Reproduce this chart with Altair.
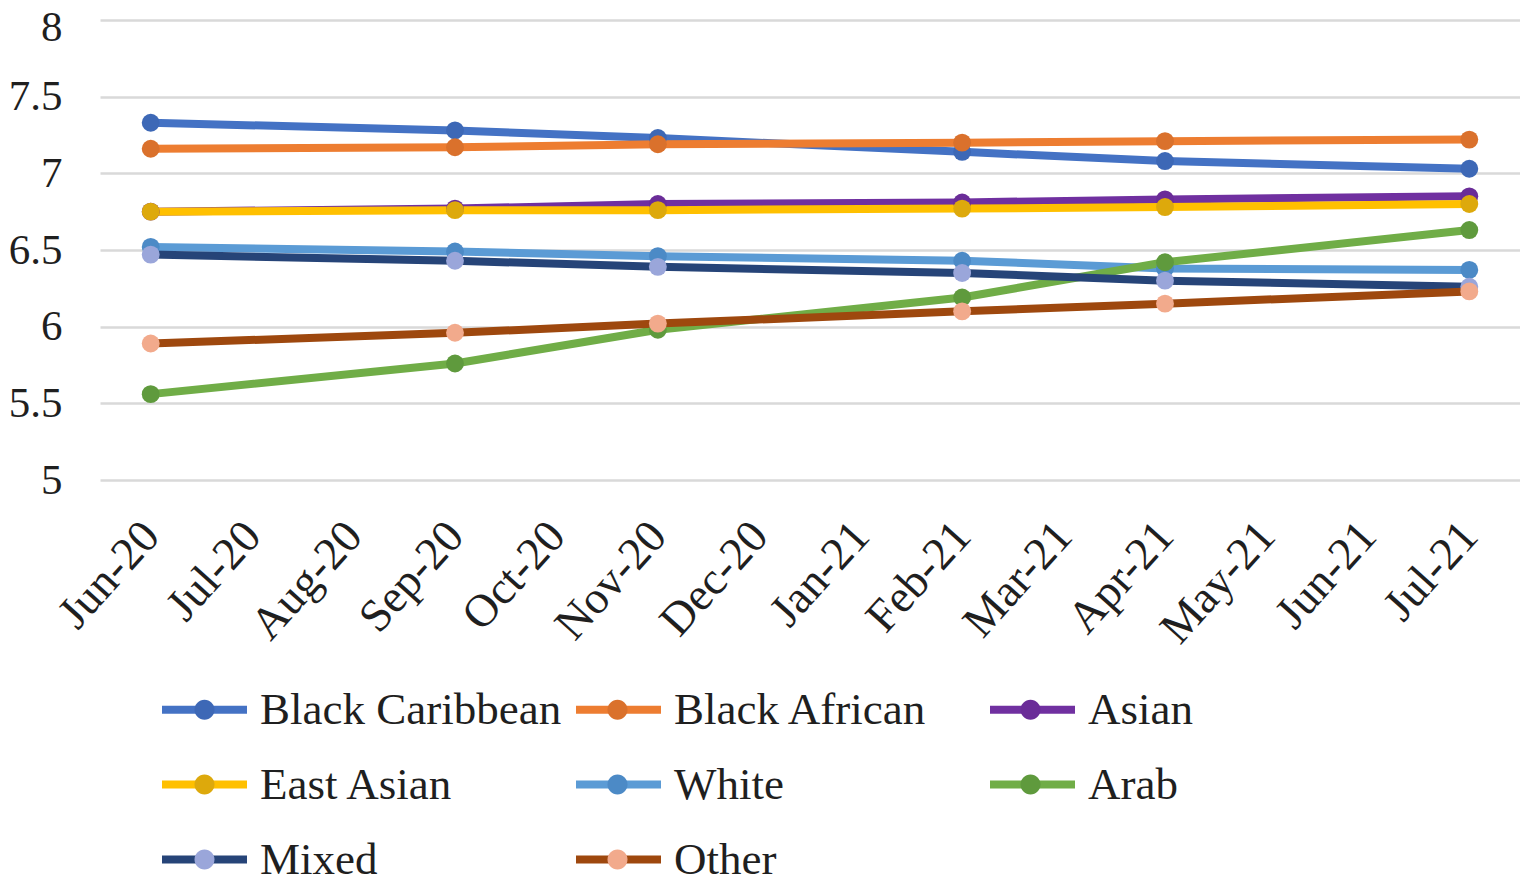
import altair as alt
import pandas as pd

months = ["Jun-20", "Jul-20", "Aug-20", "Sep-20", "Oct-20", "Nov-20", "Dec-20",
          "Jan-21", "Feb-21", "Mar-21", "Apr-21", "May-21", "Jun-21", "Jul-21"]
survey_months = ["Jun-20", "Sep-20", "Nov-20", "Feb-21", "Apr-21", "Jul-21"]

groups = ["Black Caribbean", "Black African", "Asian", "East Asian",
          "White", "Arab", "Mixed", "Other"]

black_caribbean = [7.33, 7.28, 7.23, 7.14, 7.08, 7.03]
black_african = [7.16, 7.17, 7.19, 7.20, 7.21, 7.22]
asian = [6.75, 6.77, 6.80, 6.81, 6.83, 6.85]
east_asian = [6.75, 6.76, 6.76, 6.77, 6.78, 6.80]
white = [6.52, 6.49, 6.46, 6.43, 6.38, 6.37]
arab = [5.56, 5.76, 5.98, 6.19, 6.42, 6.63]
mixed = [6.47, 6.43, 6.39, 6.35, 6.30, 6.26]
other = [5.89, 5.96, 6.02, 6.10, 6.15, 6.23]

series = [black_caribbean, black_african, asian, east_asian, white, arab, mixed, other]

line_colors = ["#4472C4", "#ED7D31", "#7030A0", "#FFC000",
               "#5B9BD5", "#70AD47", "#264478", "#9E480E"]
marker_colors = ["#3D68B6", "#DA712C", "#6A2C98", "#DDA90C",
                 "#4C8AC6", "#5F9A3D", "#9AA6DA", "#F2AA8C"]

y_ticks = [5, 5.5, 6, 6.5, 7, 7.5, 8]

rows = []
for g, vals in zip(groups, series):
    for i, (m, v) in enumerate(zip(survey_months, vals)):
        rows.append({"Month": m, "idx": i, "Score": v, "Group": g, "G2": g + "_"})
df = pd.DataFrame(rows)

FONT = "Liberation Serif"
TEXT = "#1f1f1f"

line_path = "M-2.25,0L6.25,0"
circle_path = "M3,0A1,1,0,1,1,1,0A1,1,0,1,1,3,0Z"

legend_common = dict(
    orient="none", legendX=62, legendY=667, direction="horizontal", columns=3,
    gridAlign="all", title=None, labelFont=FONT, labelFontSize=45,
    labelColor=TEXT, labelOffset=53, labelLimit=600, symbolSize=400,
    rowPadding=29, labelBaseline="middle",
)

x_enc = alt.X(
    "Month:O",
    scale=alt.Scale(domain=months),
    axis=alt.Axis(
        title=None, labelAngle=-48, labelAlign="right", labelBaseline="middle",
        labelFont=FONT, labelFontSize=46, labelColor=TEXT, labelPadding=48,
        labelOffset=0, ticks=False, domain=False, grid=False, labelOverlap=False,
    ),
)
y_enc = alt.Y(
    "Score:Q",
    scale=alt.Scale(domain=[5, 8], nice=False, zero=False),
    axis=alt.Axis(
        title=None, values=y_ticks, format=".1~f", labelFont=FONT,
        labelFontSize=43, labelColor=TEXT, labelPadding=38, ticks=False,
        labelOffset={"condition": {"test": "datum.value === 8", "value": 7}, "value": 0},
        domain=False, grid=True, gridColor="#D9D9D9", gridWidth=2.5,
    ),
)

lines = alt.Chart(df).mark_line(strokeWidth=8, strokeJoin="round", strokeCap="round").encode(
    x=x_enc,
    y=y_enc,
    color=alt.Color(
        "Group:N",
        scale=alt.Scale(domain=groups, range=line_colors),
        legend=alt.Legend(symbolType=line_path, symbolStrokeWidth=8,
                          columnPadding=-2, **legend_common),
    ),
    order=alt.Order("idx:Q"),
)

points = alt.Chart(df).mark_point(filled=True, shape="circle", size=320, opacity=1, strokeWidth=0).encode(
    x=x_enc,
    y=y_enc,
    fill=alt.Fill(
        "G2:N",
        scale=alt.Scale(domain=[g + "_" for g in groups], range=marker_colors),
        legend=alt.Legend(symbolType=circle_path, symbolStrokeWidth=0,
                          labelExpr="''", columnPadding=315, **legend_common),
    ),
)

chart = alt.layer(lines, points).properties(
    width=1420, height=460,
    autosize=alt.AutoSizeParams(type="none"),
    padding={"left": 92, "top": 12, "right": 0, "bottom": 402},
    background="white",
).configure_view(stroke=None)

chart.save("out.html", embed_options={"renderer": "svg", "actions": False})
